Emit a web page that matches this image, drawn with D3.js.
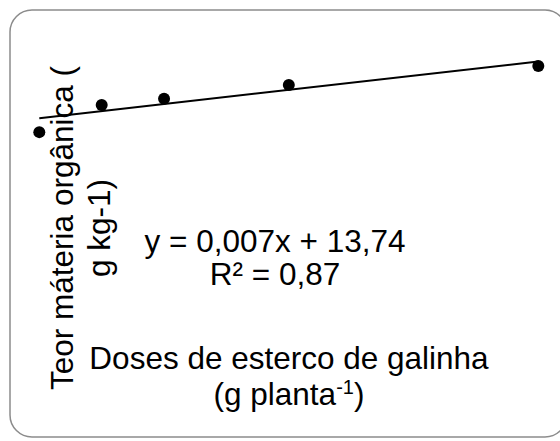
<!DOCTYPE html>
<html>
<head>
<meta charset="utf-8">
<script src="https://cdn.jsdelivr.net/npm/d3@7"></script>
<style>
  html, body { margin: 0; padding: 0; background: #fff; }
  svg { display: block; }
  text { font-family: "Liberation Sans", Arial, sans-serif; fill: #000; }
</style>
</head>
<body>
<svg id="chart" width="560" height="441"></svg>
<script>
// Data
const doses = [0, 25, 50, 100, 200];
const teor = [13.40, 14.07, 14.22, 14.56, 15.03];
const slope = 0.007;
const intercept = 13.74;
const equationLines = ["y = 0,007x + 13,74", "R² = 0,87"];
const yTitleLines = ["Teor máteria orgânica (", "g kg-1)"];
const xTitleLine1 = "Doses de esterco de galinha";
const xTitleLine2 = ["(g planta", "-1", ")"];

const svg = d3.select("#chart");
const W = 560, H = 441;

// Chart border (rounded)
svg.append("rect")
  .attr("x", 10).attr("y", 10)
  .attr("width", 557).attr("height", 427)
  .attr("rx", 22).attr("ry", 22)
  .attr("fill", "#fff")
  .attr("stroke", "#8c8c8c")
  .attr("stroke-width", 1.5);

const x = d3.scaleLinear().domain([0, 200]).range([39.3, 538.3]);
const y = d3.scaleLinear().domain([12, 16]).range([189, 26.5]);

const fs = 31.5;

// Y axis title (rotated, two lines)
const yBase = [73, 110];
yTitleLines.forEach((t, i) => {
  svg.append("text")
    .attr("transform", `translate(${yBase[i]},228) rotate(-90)`)
    .attr("text-anchor", "middle")
    .style("font-size", fs + "px")
    .text(t);
});

// Equation
const eqY = [252, 285];
equationLines.forEach((t, i) => {
  svg.append("text")
    .attr("x", 275).attr("y", eqY[i])
    .attr("text-anchor", "middle")
    .style("font-size", fs + "px")
    .text(t);
});

// X axis title
svg.append("text")
  .attr("x", 289).attr("y", 369)
  .attr("text-anchor", "middle")
  .style("font-size", fs + "px")
  .text(xTitleLine1);

const t2 = svg.append("text")
  .attr("x", 289).attr("y", 405)
  .attr("text-anchor", "middle")
  .style("font-size", fs + "px");
t2.append("tspan").text(xTitleLine2[0]);
t2.append("tspan").attr("dy", -11).style("font-size", "20px").text(xTitleLine2[1]);
t2.append("tspan").attr("dy", 11).text(xTitleLine2[2]);

// Trendline
const xExt = d3.extent(doses);
svg.append("line")
  .attr("x1", x(xExt[0])).attr("y1", y(intercept + slope * xExt[0]))
  .attr("x2", x(xExt[1])).attr("y2", y(intercept + slope * xExt[1]))
  .attr("stroke", "#000")
  .attr("stroke-width", 2);

// Points
svg.selectAll("circle.pt")
  .data(doses.map((d, i) => [d, teor[i]]))
  .enter().append("circle")
  .attr("class", "pt")
  .attr("cx", d => x(d[0]))
  .attr("cy", d => y(d[1]))
  .attr("r", 6)
  .attr("fill", "#000");
</script>
</body>
</html>
